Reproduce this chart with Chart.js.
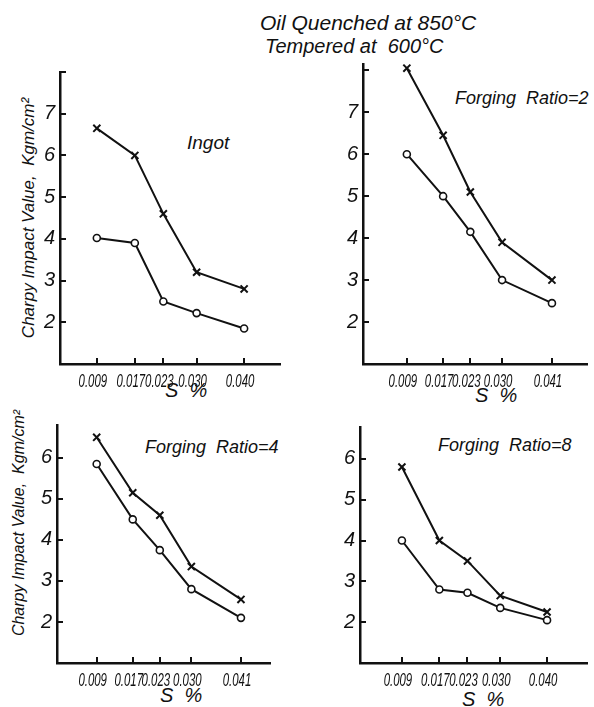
<!DOCTYPE html>
<html>
<head>
<meta charset="utf-8">
<script src="https://cdn.jsdelivr.net/npm/chart.js@4.4.1/dist/chart.umd.min.js"></script>
<style>
  html, body { margin: 0; padding: 0; background: #fff; }
  #page { position: relative; width: 594px; height: 707px; overflow: hidden;
          font-family: 'Liberation Sans', Arial, sans-serif; font-style: italic; color: #111; }
  #page canvas { position: absolute; }
  .lbl { position: absolute; white-space: pre; line-height: 1; }
  .ytitle { position: absolute; white-space: pre; line-height: 1;
            transform: translate(-50%, -50%) rotate(-90deg); }
</style>
</head>
<body>
<div id="page">
  <div class="lbl" style="left:260px; top:12px; font-size:21px;">Oil Quenched at 850°C</div>
  <div class="lbl" style="left:265px; top:36px; font-size:20px;">Tempered at  600°C</div>

  <div class="ytitle" style="left:28px; top:218px; font-size:17px;">Charpy Impact Value,  Kgm/cm²</div>
  <div class="ytitle" style="left:19px; top:523px; font-size:16px;">Charpy Impact Value,  Kgm/cm²</div>

  <div class="lbl" style="left:187px; top:133px; font-size:19px;">Ingot</div>
  <div class="lbl" style="left:455px; top:89px; font-size:18px;">Forging  Ratio=2</div>
  <div class="lbl" style="left:145px; top:438px; font-size:18px;">Forging  Ratio=4</div>
  <div class="lbl" style="left:438px; top:436px; font-size:18px;">Forging  Ratio=8</div>

  <div class="lbl" style="left:165px; top:380px; font-size:20px;">S  %</div>
  <div class="lbl" style="left:475px; top:385px; font-size:20px;">S  %</div>
  <div class="lbl" style="left:160px; top:685px; font-size:20px;">S  %</div>
  <div class="lbl" style="left:462px; top:689px; font-size:20px;">S  %</div>

  <canvas id="c1"></canvas>
  <canvas id="c2"></canvas>
  <canvas id="c3"></canvas>
  <canvas id="c4"></canvas>
</div>
<script>
// S content (%) tested in each panel
const sIngot  = [0.009, 0.017, 0.023, 0.030, 0.040];
const sRatio2 = [0.009, 0.017, 0.023, 0.030, 0.041];
const sRatio4 = [0.009, 0.017, 0.023, 0.030, 0.041];
const sRatio8 = [0.009, 0.017, 0.023, 0.030, 0.040];

// Charpy impact value, kgm/cm2 (x marks and o marks)
const crossIngot  = [6.65, 6.0, 4.6, 3.2, 2.8];
const circleIngot = [4.02, 3.9, 2.5, 2.22, 1.85];
const crossRatio2  = [8.05, 6.45, 5.1, 3.9, 3.0];
const circleRatio2 = [6.0, 5.0, 4.15, 3.0, 2.45];
const crossRatio4  = [6.5, 5.15, 4.6, 3.35, 2.55];
const circleRatio4 = [5.85, 4.5, 3.75, 2.8, 2.1];
const crossRatio8  = [5.8, 4.0, 3.5, 2.65, 2.25];
const circleRatio8 = [4.0, 2.8, 2.72, 2.35, 2.05];

// y tick values (8 gets a mark but no label)
const yTicksTop    = [2, 3, 4, 5, 6, 7, 8];
const yTicksBottom = [2, 3, 4, 5, 6];

const INK = '#111';
const Y_W = 50, X_H = 34, PAD_T = 10;

// chart area in page pixels for every panel
const panels = [
  { id: 'c1', l: 60,  r: 287, t: 65,  b: 364, xMin: 0.00125, xMax: 0.04755, yMax: 8.0,  s: sIngot,  cross: crossIngot,  circle: circleIngot,  yTicks: yTicksTop },
  { id: 'c2', l: 363, r: 594, t: 57,  b: 364, xMin: -0.00067, xMax: 0.04873, yMax: 8.15, s: sRatio2, cross: crossRatio2, circle: circleRatio2, yTicks: yTicksTop },
  { id: 'c3', l: 57,  r: 277, t: 418, b: 663, xMin: 0.0002,  xMax: 0.04744, yMax: 6.8,  s: sRatio4, cross: crossRatio4, circle: circleRatio4, yTicks: yTicksBottom },
  { id: 'c4', l: 360, r: 594, t: 420, b: 663, xMin: 0.00005, xMax: 0.04853, yMax: 6.78, s: sRatio8, cross: crossRatio8, circle: circleRatio8, yTicks: yTicksBottom },
];

function fmtS(v) {
  return v.toFixed(3);
}

// short tick marks pointing into the plot, plus condensed S labels
const innerTicks = {
  id: 'innerTicks',
  afterDraw(chart) {
    const { ctx, chartArea, scales: { x, y } } = chart;
    ctx.save();
    ctx.strokeStyle = INK;
    ctx.lineWidth = 2;
    ctx.beginPath();
    y.ticks.forEach(t => {
      const py = Math.round(y.getPixelForValue(t.value));
      ctx.moveTo(chartArea.left, py);
      ctx.lineTo(chartArea.left + 6, py);
    });
    x.ticks.forEach(t => {
      const px = Math.round(x.getPixelForValue(t.value));
      ctx.moveTo(px, chartArea.bottom);
      ctx.lineTo(px, chartArea.bottom - 6);
    });
    ctx.stroke();

    // the printed tick labels are a very narrow italic face
    ctx.fillStyle = INK;
    ctx.font = "italic 19px 'Liberation Sans', Arial, sans-serif";
    ctx.textAlign = 'center';
    ctx.textBaseline = 'top';
    x.ticks.forEach(t => {
      ctx.save();
      ctx.translate(x.getPixelForValue(t.value) - 4, chartArea.bottom + 8);
      ctx.scale(0.6, 1);
      ctx.fillText(fmtS(t.value), 0, 0);
      ctx.restore();
    });
    ctx.restore();
  }
};

panels.forEach(p => {
  const canvas = document.getElementById(p.id);
  const w = (p.r - p.l) + Y_W;
  const h = (p.b - p.t) + PAD_T + X_H;
  canvas.style.left = (p.l - Y_W) + 'px';
  canvas.style.top = (p.t - PAD_T) + 'px';
  canvas.style.width = w + 'px';
  canvas.style.height = h + 'px';
  canvas.width = w;
  canvas.height = h;

  const pts = vals => p.s.map((s, i) => ({ x: s, y: vals[i] }));

  new Chart(canvas.getContext('2d'), {
    type: 'line',
    data: {
      datasets: [
        {
          label: 'x',
          data: pts(p.cross),
          borderColor: INK,
          borderWidth: 2,
          pointStyle: 'crossRot',
          pointRadius: 5,
          pointBorderWidth: 2,
          pointBorderColor: INK,
          tension: 0,
        },
        {
          label: 'o',
          data: pts(p.circle),
          borderColor: INK,
          borderWidth: 2,
          pointStyle: 'circle',
          pointRadius: 3.5,
          pointBorderWidth: 1.6,
          pointBorderColor: INK,
          pointBackgroundColor: '#fff',
          tension: 0,
        },
      ],
    },
    options: {
      responsive: false,
      animation: false,
      clip: false,
      layout: { padding: { top: PAD_T, right: 0, left: 0, bottom: 0 } },
      plugins: {
        legend: { display: false },
        tooltip: { enabled: false },
      },
      scales: {
        x: {
          type: 'linear',
          min: p.xMin,
          max: p.xMax,
          afterFit: sc => { sc.height = X_H; },
          afterBuildTicks: sc => { sc.ticks = p.s.map(v => ({ value: v })); },
          grid: { display: false, drawTicks: false },
          border: { display: true, color: INK, width: 2.5 },
          ticks: { display: false },
        },
        y: {
          type: 'linear',
          min: 1,
          max: p.yMax,
          afterFit: sc => { sc.width = Y_W; },
          afterBuildTicks: sc => { sc.ticks = p.yTicks.map(v => ({ value: v })); },
          grid: { display: false, drawTicks: false },
          border: { display: true, color: INK, width: 2.5 },
          ticks: {
            padding: 5,
            autoSkip: false,
            color: INK,
            font: { family: "'Liberation Sans', Arial, sans-serif", style: 'italic', size: 20 },
            callback: v => (v >= 8 ? '' : String(v)),
          },
        },
      },
    },
    plugins: [innerTicks],
  });
});
</script>
</body>
</html>
